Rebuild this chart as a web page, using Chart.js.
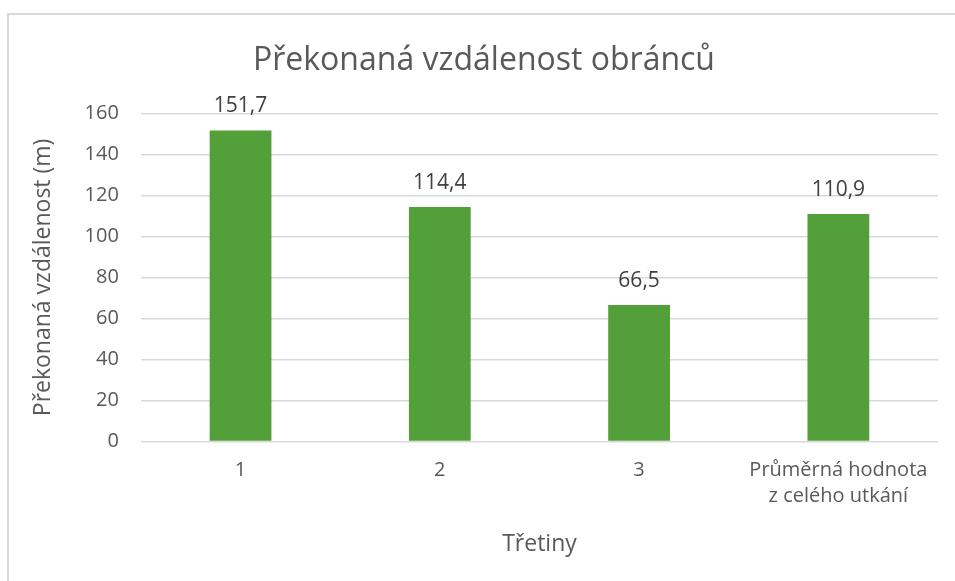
<!DOCTYPE html>
<html>
<head>
<meta charset="utf-8">
<script src="https://cdn.jsdelivr.net/npm/chart.js@4"></script>
<style>
  html, body { margin: 0; padding: 0; background: #fff; overflow: hidden; }
  #frame { position: absolute; left: 7px; top: 13px; width: 960px; height: 580px; border: 2px solid #d9d9d9; box-sizing: border-box; }
  #wrap { position: absolute; left: 0; top: 0; width: 955px; height: 581px; }
</style>
</head>
<body>
<div id="frame"></div>
<div id="wrap"><canvas id="chart"></canvas></div>
<script>
const categories = ['1', '2', '3', ['Průměrná hodnota', 'z celého utkání']];
const distances = [151.7, 114.4, 66.5, 110.9];
const yTicks = [0, 20, 40, 60, 80, 100, 120, 140, 160];

const textColor = '#595959';
const fontFamily = '"Open Sans", sans-serif';

// draws the value above every bar, Czech decimal comma
const valueLabels = {
  id: 'valueLabels',
  afterDatasetsDraw(chart) {
    const ctx = chart.ctx;
    ctx.save();
    ctx.font = '21px ' + fontFamily;
    ctx.fillStyle = '#404040';
    ctx.textAlign = 'center';
    ctx.textBaseline = 'alphabetic';
    chart.getDatasetMeta(0).data.forEach((bar, i) => {
      const txt = distances[i].toFixed(1).replace('.', ',');
      ctx.fillText(txt, bar.x, bar.y - 18);
    });
    ctx.restore();
  }
};

new Chart(document.getElementById('chart'), {
  type: 'bar',
  data: {
    labels: categories,
    datasets: [{
      data: distances,
      backgroundColor: '#53a03a',
      borderWidth: 0,
      categoryPercentage: 1,
      barPercentage: 0.31
    }]
  },
  options: {
    responsive: true,
    maintainAspectRatio: false,
    animation: false,
    layout: { padding: { left: 30, right: 17, top: 18, bottom: 23 } },
    plugins: {
      legend: { display: false },
      tooltip: { enabled: false },
      title: {
        display: true,
        text: 'Překonaná vzdálenost obránců',
        color: textColor,
        font: { family: fontFamily, size: 32, weight: 'normal' },
        padding: { top: 24, bottom: 33 }
      }
    },
    scales: {
      x: {
        grid: { display: false, drawTicks: false },
        border: { display: false },
        ticks: {
          color: textColor,
          font: { family: fontFamily, size: 20, lineHeight: 1.3 },
          padding: 16,
          maxRotation: 0
        },
        title: {
          display: true,
          text: 'Třetiny',
          color: textColor,
          font: { family: fontFamily, size: 23 },
          padding: { top: 5, bottom: 0 }
        }
      },
      y: {
        min: 0,
        max: 160,
        afterBuildTicks(axis) { axis.ticks = yTicks.map(v => ({ value: v })); },
        grid: { color: '#d9d9d9', lineWidth: 1.5, drawTicks: false },
        border: { display: false },
        ticks: {
          color: textColor,
          font: { family: fontFamily, size: 20 },
          padding: 22
        },
        title: {
          display: true,
          text: 'Překonaná vzdálenost (m)',
          color: textColor,
          font: { family: fontFamily, size: 23 },
          padding: { top: 0, bottom: 5 }
        }
      }
    }
  },
  plugins: [valueLabels]
});
</script>
</body>
</html>
